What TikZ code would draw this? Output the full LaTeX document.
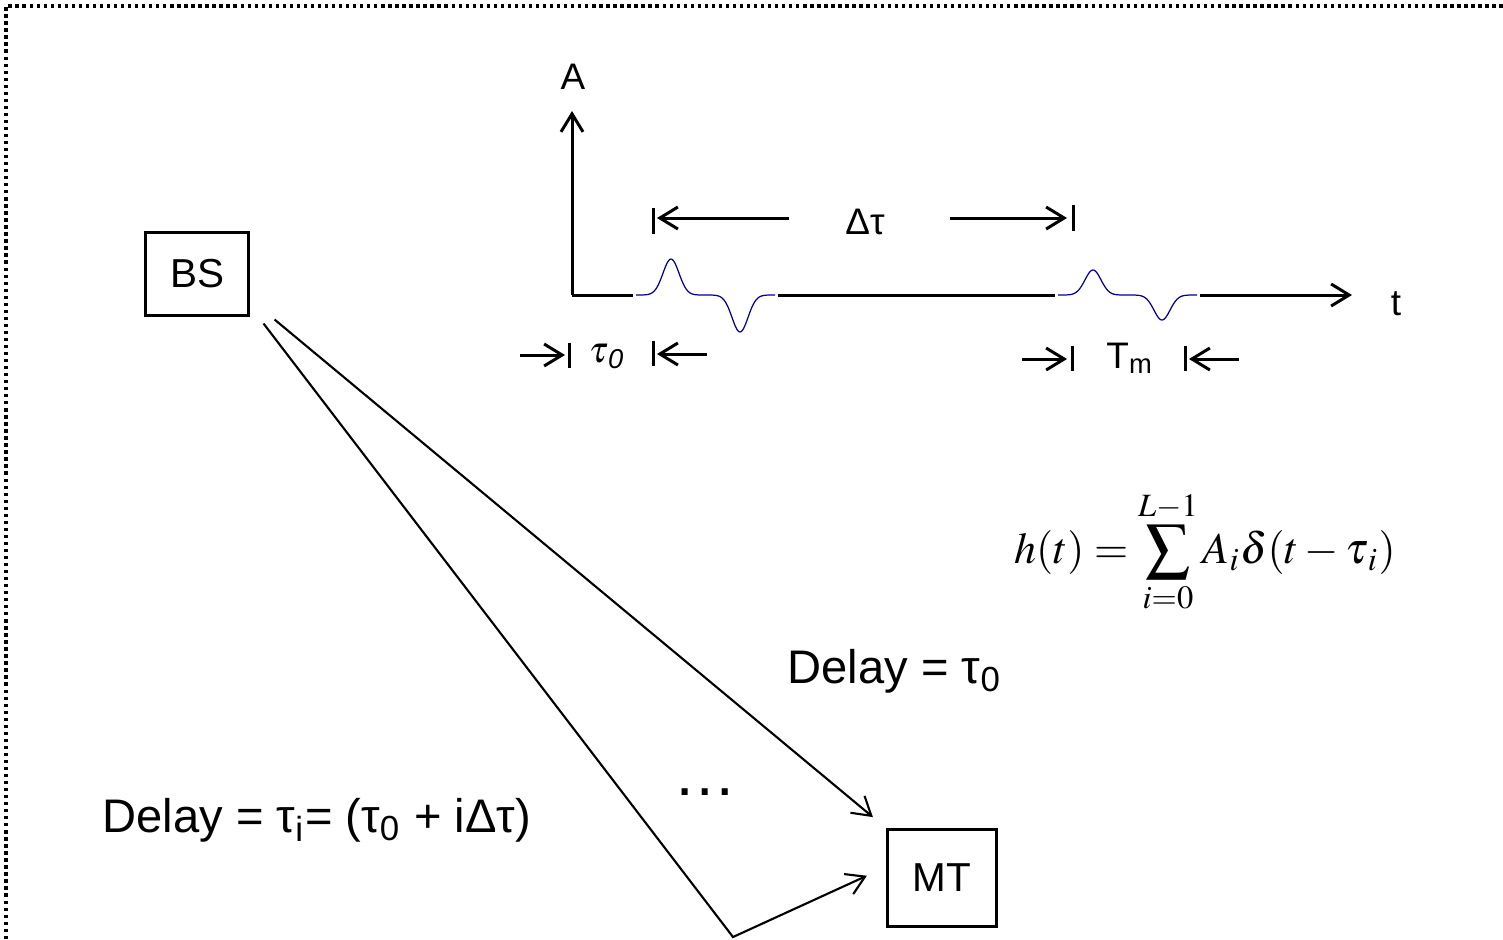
\documentclass[tikz,border=0pt]{standalone}
\usepackage{mathptmx}
\usepackage[no-math]{fontspec}
\setmainfont{Liberation Sans}
\usetikzlibrary{arrows.meta}

\begin{document}
\begin{tikzpicture}[x=0.01cm,y=-0.01cm,>={Straight Barb[length=1.8mm,width=2.2mm]},
    every node/.style={inner sep=0pt},
    box/.style={draw,line width=0.85pt,font=\fontsize{11.5}{14}\selectfont},
    lbl/.style={font=\fontsize{10.5}{12}\selectfont},
    big/.style={font=\fontsize{13.4}{15}\selectfont},
    axis/.style={line width=0.85pt},
    ray/.style={line width=0.6pt},
    pulse/.style={blue!60!black,line width=0.35pt}]
    % Változók
    \def\base{295} % az időtengely
    \def\sig{8}    % az impulzus szélessége

    % Keret
    \useasboundingbox (0,0) rectangle (1503,939);
    \draw[line width=0.95pt,dash pattern=on 0.95pt off 1.05pt] (6,939) -- (6,6) -- (1503,6);

    % Állomások
    \node[box,minimum width=1.02cm,minimum height=0.82cm] (BS) at (197,274) {BS};
    \node[box,minimum width=1.09cm,minimum height=0.97cm] (MT) at (942,878) {MT};

    % Terjedési utak
    \coordinate (p0) at ([xshift=0.25cm,yshift=-0.03cm]BS.south east);
    \coordinate (p1) at ([xshift=0.14cm,yshift=-0.07cm]BS.south east);
    \coordinate (refl) at (733,937);
    \draw[ray,->,shorten >=0.17cm] (p0) -- (MT.north west);
    \draw[ray,->,shorten >=0.21cm] (p1) -- (refl) -- ([yshift=0.11cm]MT.west);
    \node[anchor=base,font=\fontsize{18}{20}\selectfont] (dots) at (705,795) {…};
    \node[big,anchor=base west] (d0) at (787,683) {Delay = τ\textsubscript{0}};
    \node[big,anchor=base west] (di) at (102,832) {Delay = τ\textsubscript{i}= (τ\textsubscript{0} + iΔτ)};

    % Tengelyek
    \draw[axis,->] (572,\base) -- (572,111);
    \node[lbl,anchor=base] (A) at (573,89) {A};
    \draw[axis] (572,\base) -- (633,\base);
    \draw[axis] (778,\base) -- (1055,\base);
    \draw[axis,->] (1200,\base) -- (1352,\base);
    \node[lbl,anchor=base] (t) at (1396,315) {t};

    % Impulzusok
    \draw[pulse] plot[domain=636:775,samples=120]
        (\x,{\base-36*exp(-((\x-671)/\sig)^2/2)+37*exp(-((\x-740)/\sig)^2/2)});
    \draw[pulse] plot[domain=1058:1197,samples=120]
        (\x,{\base-25*exp(-((\x-1093)/\sig)^2/2)+25*exp(-((\x-1162)/\sig)^2/2)});

    % Delta tau
    \draw[axis] (653,208) -- (653,234);
    \draw[axis,->] (789,218) -- (657,218);
    \node[lbl] (dtau) at (865,222) {Δτ};
    \draw[axis,->] (950,218) -- (1067,218);
    \draw[axis] (1073,205) -- (1073,231);

    % tau_0
    \draw[axis,->] (520,355) -- (565,355);
    \draw[axis] (569,343) -- (569,368);
    \node[lbl,anchor=base] (tau0) at (607,362) {$\tau$\textsubscript{\itshape 0}};
    \draw[axis] (653,341) -- (653,366);
    \draw[axis,->] (707,354) -- (657,354);

    % T_m
    \draw[axis,->] (1022,359) -- (1067,359);
    \draw[axis] (1072,346) -- (1072,371);
    \node[lbl,anchor=base] (Tm) at (1130,368) {T\textsubscript{m}};
    \draw[axis] (1185,346) -- (1185,371);
    \draw[axis,->] (1239,359) -- (1189,359);

    % Impulzusválasz
    \node (hfn) at (1205,552) {\fontsize{12.5}{15}\selectfont $\displaystyle h(t)=\sum_{i=0}^{L-1}A_i\delta\!\left(t-\tau_{\,i}\right)$};
\end{tikzpicture}
\end{document}
